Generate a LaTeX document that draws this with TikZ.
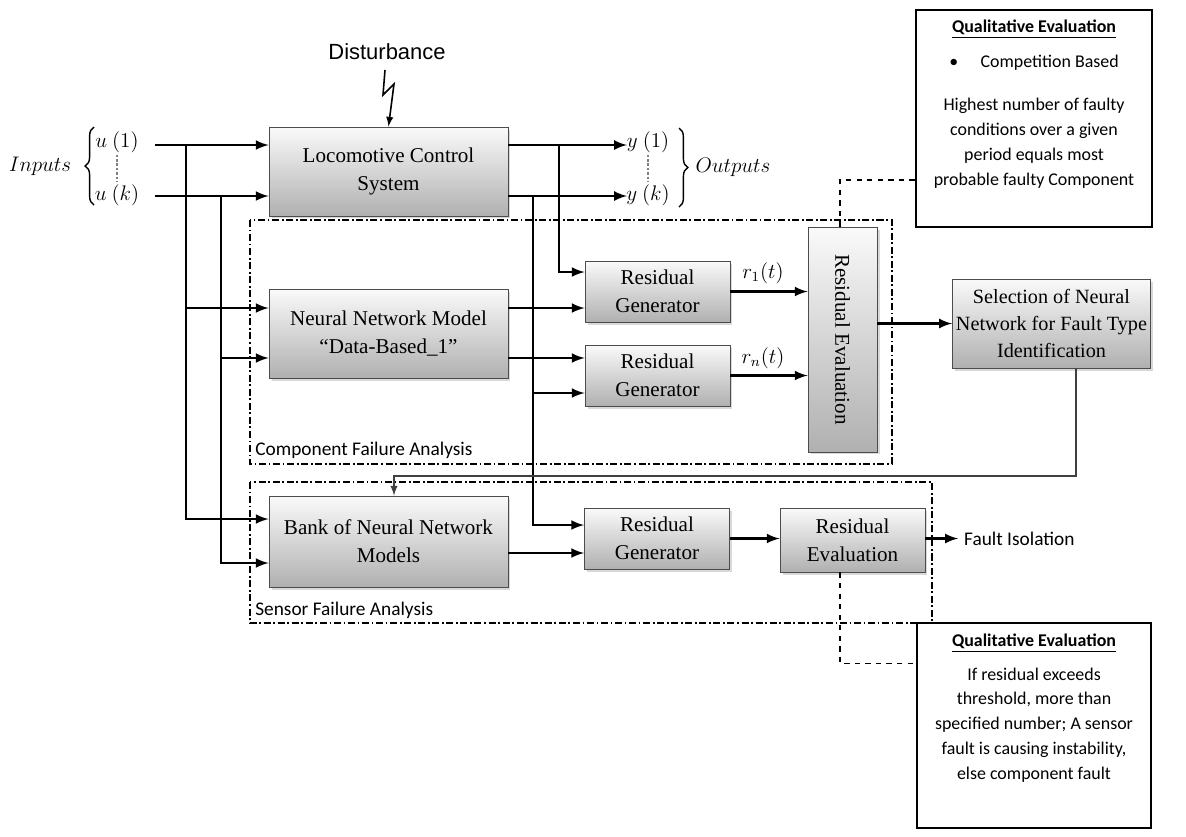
\documentclass[tikz,border=0pt]{standalone}
\usepackage{fontspec}
\setmainfont{Liberation Serif}
\newfontfamily\calibri{Carlito}
\newfontfamily\arial{Liberation Sans}
\usetikzlibrary{arrows}
\usetikzlibrary{shapes}
\usetikzlibrary{shadows}
\usetikzlibrary{decorations.pathreplacing}
\usetikzlibrary{backgrounds,positioning}

\tikzset{
  block/.style={draw=gray!60!black, line width=0.5pt, top color=gray!4, bottom color=gray!62,
    drop shadow={shadow xshift=0.05cm, shadow yshift=-0.05cm, opacity=0.3},
    align=center, inner sep=2pt, font=\fontsize{12}{15.8}\selectfont},
  qualbox/.style={draw, line width=0.8pt, fill=white},
  qualtext/.style={align=center, inner sep=0pt, font=\calibri\fontsize{10.2}{14.2}\selectfont},
  zone/.style={line width=0.6pt, dash pattern=on 4pt off 1.5pt on 1pt off 1.5pt},
  zonelabel/.style={anchor=west, inner sep=0pt, font=\calibri\fontsize{11}{13}\selectfont},
  mathlabel/.style={font=\fontsize{11.5}{13}\selectfont},
  sig/.style={line width=1.5pt, -latex},
  link/.style={line width=0.6pt, dashed},
  fb/.style={line width=0.9pt, draw=black!75, -latex},
}

\begin{document}
\begin{tikzpicture}[x=0.02cm, y=-0.02cm]
  \useasboundingbox (0,0) rectangle (1186,836);

  % analysis zones
  \draw[zone] (250,220) rectangle (892,464);
  \draw[zone] (250,482) rectangle (932,623);
  \node[zonelabel] (cfa) at (255,450) {Component Failure Analysis};
  \node[zonelabel] (sfa) at (255,610) {Sensor Failure Analysis};

  % blocks
  \node[block, minimum width=4.78cm, minimum height=1.78cm] (loco) at (388.5,171.5) {Locomotive Control\\System};
  \node[block, minimum width=4.78cm, minimum height=1.78cm] (nnm) at (388.5,333.5) {Neural Network Model\\“Data-Based\_1”};
  \node[block, minimum width=4.78cm, minimum height=1.82cm] (bank) at (388.5,541.5) {Bank of Neural Network\\Models};
  \node[block, minimum width=2.9cm, minimum height=1.22cm] (rg1) at (657.5,291.5) {Residual\\Generator};
  \node[block, minimum width=2.9cm, minimum height=1.22cm] (rg2) at (657.5,375.5) {Residual\\Generator};
  \node[block, minimum width=2.9cm, minimum height=1.22cm] (rg3) at (657,538.5) {Residual\\Generator};
  \node[block, minimum width=1.38cm, minimum height=4.5cm,
    label={[rotate=-90, font=\fontsize{12}{14}\selectfont]center:Residual Evaluation}] (reseval) at (842.5,339.5) {};
  \node[block, minimum width=3.94cm, minimum height=1.78cm, font=\fontsize{11.5}{15.5}\selectfont] (sel) at (1051.5,323.5) {Selection of Neural\\Network for Fault Type\\Identification};
  \node[block, minimum width=2.9cm, minimum height=1.28cm] (reseval2) at (852.5,540) {Residual\\Evaluation};

  % qualitative evaluation boxes
  \node[qualbox, minimum width=4.72cm, minimum height=4.34cm] (qual1) at (1034,118.5) {};
  \node[qualtext, anchor=north] (q1txt) at ([yshift=-0.2cm]qual1.north)
    {\underline{\textbf{Qualitative Evaluation}}\\[6pt]
     \textbullet\hspace{1.25em}Competition Based\hspace*{0.7cm}\\[10pt]
     Highest number of faulty\\ conditions over a given\\ period equals most\\ probable faulty Component};
  \node[qualbox, minimum width=4.68cm, minimum height=4.1cm] (qual2) at (1034,725.5) {};
  \node[qualtext, anchor=north] (q2txt) at ([yshift=-0.22cm]qual2.north)
    {\underline{\textbf{Qualitative Evaluation}}\\[5pt]
     If residual exceeds\\ threshold, more than\\ specified number; A sensor\\ fault is causing instability,\\ else component fault};

  % inputs, outputs, disturbance
  \node (dist) at (387,52) {\arial\fontsize{12.5}{15}\selectfont Disturbance};
  \node[mathlabel] (inp) at (40,166) {$Inputs$};
  \node[mathlabel, inner sep=1pt] (u1) at (117,142) {$u\ (1)$};
  \node[mathlabel, inner sep=1pt] (uk) at (117,195) {$u\ (k)$};
  \node[mathlabel, inner sep=1pt] (y1) at (648,142) {$y\ (1)$};
  \node[mathlabel, inner sep=1pt] (yk) at (648,195) {$y\ (k)$};
  \node[mathlabel] (outp) at (733,167) {$Outputs$};
  \node[mathlabel] (r1) at (763,273) {$r_1(t)$};
  \node[mathlabel] (rn) at (763,358) {$r_n(t)$};
  \node[anchor=west, font=\calibri\fontsize{11}{13}\selectfont] (fiso) at (958,539) {Fault Isolation};

  \draw[line width=0.8pt, decorate, decoration={brace, amplitude=5pt}] (94,205) -- (94,127);
  \draw[line width=0.8pt, decorate, decoration={brace, amplitude=5pt}] (679,128) -- (679,207);
  \draw[line width=0.9pt, gray, dash pattern=on 1.5pt off 1pt] (u1) -- (uk);
  \draw[line width=0.9pt, gray, dash pattern=on 1.5pt off 1pt] (y1) -- (yk);
  \draw[line width=0.9pt, -latex] (385,70) -- (383,95) -- (394,84) -- (loco.north);

  \coordinate (in1) at (155,145);
  \coordinate (ink) at (155,196);
  \coordinate (bus1) at (186,145);
  \coordinate (busk) at (221,196);
  \coordinate (out1) at (627,145);
  \coordinate (outk) at (627,196);
  \coordinate (tap1) at (559,145);
  \coordinate (tapk) at (533,196);
  \coordinate (fbk) at (1076,476);

  % signal lines
  \draw[sig] (in1) -- (in1 -| loco.west);
  \draw[sig] (ink) -- (ink -| loco.west);
  \draw[sig] (bus1) |- ([yshift=0.51cm]nnm.west);
  \draw[sig] (bus1) |- ([yshift=0.45cm]bank.west);
  \draw[sig] (busk) |- ([yshift=-0.49cm]nnm.west);
  \draw[sig] (busk) |- ([yshift=-0.43cm]bank.west);
  \draw[sig] (out1 -| loco.east) -- (out1);
  \draw[sig] (outk -| loco.east) -- (outk);
  \draw[sig] (tap1) |- ([yshift=0.39cm]rg1.west);
  \draw[sig] ([yshift=0.51cm]nnm.east) -- ([yshift=0.51cm]nnm.east -| rg1.west);
  \draw[sig] ([yshift=-0.49cm]nnm.east) -- ([yshift=-0.49cm]nnm.east -| rg2.west);
  \draw[sig] (tapk) |- ([yshift=-0.35cm]rg2.west);
  \draw[sig] (tapk) |- ([yshift=0.27cm]rg3.west);
  \draw[sig] ([yshift=-0.23cm]bank.east) -- ([yshift=-0.23cm]bank.east -| rg3.west);
  \draw[sig] (rg1.east) -- (rg1.east -| reseval.west);
  \draw[sig] (rg2.east) -- (rg2.east -| reseval.west);
  \draw[sig] (sel.west -| reseval.east) -- (sel.west);
  \draw[sig] (rg3.east) -- (rg3.east -| reseval2.west);
  \draw[sig] (reseval2.east |- rg3.east) -- (rg3.east -| fiso.west);
  \draw[fb] ([xshift=0.49cm]sel.south) -- (fbk) -| ([xshift=0.11cm]bank.north);

  % links to evaluation notes
  \draw[link] ([xshift=-0.05cm]reseval.north) |- ([yshift=-1.23cm]qual1.west);
  \draw[link] ([xshift=-0.25cm]reseval2.south) |- ([yshift=1.25cm]qual2.west);
\end{tikzpicture}
\end{document}
